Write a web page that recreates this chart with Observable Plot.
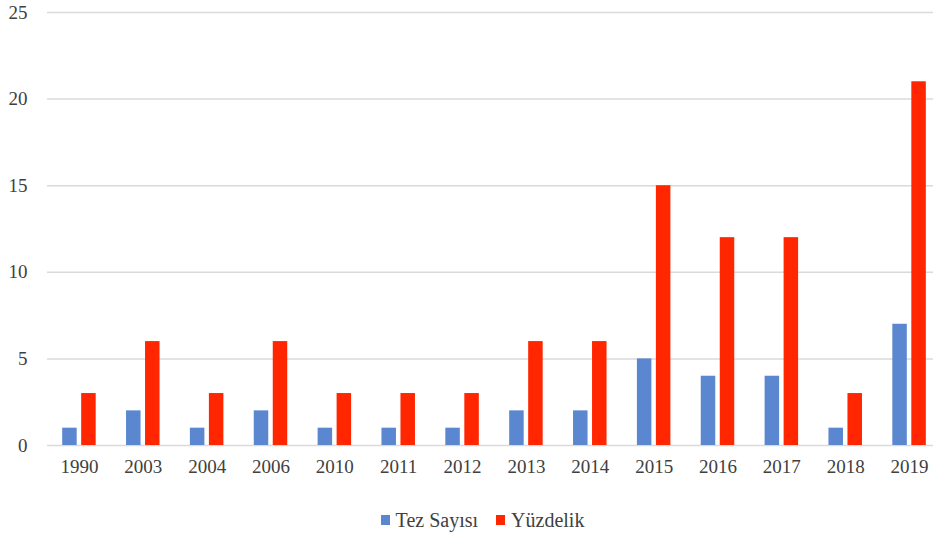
<!DOCTYPE html>
<html>
<head>
<meta charset="utf-8">
<script src="https://cdn.jsdelivr.net/npm/d3@7"></script>
<script src="https://cdn.jsdelivr.net/npm/@observablehq/plot@0.6"></script>
<style>
  body { margin: 0; background: #fff; font-family: "Liberation Serif", "Times New Roman", serif; overflow: hidden; }
  #chart { width: 933px; overflow: hidden; }
  #legend { display: flex; justify-content: center; align-items: center; gap: 18px; font-size: 20px; color: #404040; height: 46px; padding-left: 32px; padding-top: 7px; }
  #legend span.sw { display: inline-block; width: 9px; height: 10px; margin-right: 6px; }
</style>
</head>
<body>
<div id="chart"></div>
<div id="legend"></div>
<script>
const years = ["1990","2003","2004","2006","2010","2011","2012","2013","2014","2015","2016","2017","2018","2019"];
const tezSayisi = [1,2,1,2,1,1,1,2,2,5,4,4,1,7];
const yuzdelik = [3,6,3,6,3,3,3,6,6,15,12,12,3,21];
const seriesNames = ["Tez Sayısı", "Yüzdelik"];
const seriesColors = ["#5a87cf", "#ff2600"];
const yTicks = [0,5,10,15,20,25];

const tezData = years.map((y, i) => ({year: y, series: seriesNames[0], value: tezSayisi[i]}));
const yuzData = years.map((y, i) => ({year: y, series: seriesNames[1], value: yuzdelik[i]}));

const plot = Plot.plot({
  width: 933,
  height: 490,
  marginTop: 12,
  marginBottom: 45,
  marginLeft: 47,
  marginRight: 0,
  style: {fontFamily: "'Liberation Serif', 'Times New Roman', serif", fontSize: "19px", color: "#404040", background: "#fff", overflow: "hidden"},
  x: {domain: years, range: [47, 941], round: false, paddingInner: 0.773, paddingOuter: 0.3865, label: null},
  y: {domain: [0, 25], ticks: yTicks, label: null},
  color: {domain: seriesNames, range: seriesColors},
  marks: [
    Plot.ruleY(yTicks, {stroke: "#dadada", strokeWidth: 1.5}),
    Plot.axisY({ticks: yTicks, tickSize: 0, tickPadding: 20, label: null, fontSize: 19}),
    Plot.axisX({tickSize: 0, tickPadding: 14, label: null, fontSize: 19}),
    Plot.barY(tezData, {x: "year", y: "value", fill: "series", dx: -9.5}),
    Plot.barY(yuzData, {x: "year", y: "value", fill: "series", dx: 9.5})
  ]
});
document.getElementById("chart").appendChild(plot);

const legend = document.getElementById("legend");
seriesNames.forEach((n, i) => {
  const item = document.createElement("div");
  item.style.display = "flex";
  item.style.alignItems = "center";
  const sw = document.createElement("span");
  sw.className = "sw";
  sw.style.background = seriesColors[i];
  item.appendChild(sw);
  item.appendChild(document.createTextNode(n));
  legend.appendChild(item);
});
</script>
</body>
</html>
